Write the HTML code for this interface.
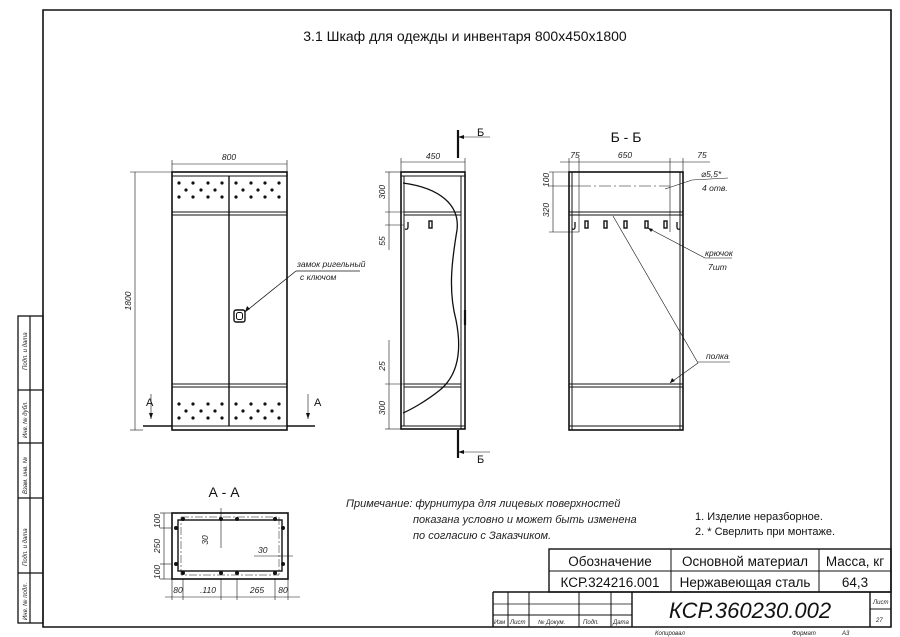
<!DOCTYPE html>
<html><head><meta charset="utf-8"><style>
html,body{margin:0;padding:0;background:#fff;}
svg{display:block;font-family:"Liberation Sans","DejaVu Sans",sans-serif;}
.t{fill:#111;}
.i{font-style:italic;fill:#222;}
</style></head><body>
<svg width="900" height="637" viewBox="0 0 900 637" xmlns="http://www.w3.org/2000/svg">
<rect width="900" height="637" fill="#fff"/>
<g stroke="#111" fill="none">
<!-- frame -->
<path d="M43 10 H891 V627 H43 Z" stroke-width="1.6"/>
<rect x="18" y="316" width="25" height="307" stroke-width="1.3"/>
<line x1="30" y1="316" x2="30" y2="623" stroke-width="1.2"/>
<line x1="18" y1="390" x2="43" y2="390" stroke-width="1.2"/>
<line x1="18" y1="443" x2="43" y2="443" stroke-width="1.2"/>
<line x1="18" y1="498" x2="43" y2="498" stroke-width="1.2"/>
<line x1="18" y1="573" x2="43" y2="573" stroke-width="1.2"/>

<!-- FRONT VIEW -->
<rect x="172" y="172" width="115" height="258" stroke-width="1.6"/>
<line x1="172" y1="176" x2="287" y2="176"/>
<line x1="172" y1="212" x2="287" y2="212"/>
<line x1="172" y1="215" x2="287" y2="215"/>
<line x1="172" y1="384" x2="287" y2="384"/>
<line x1="172" y1="387" x2="287" y2="387"/>
<line x1="172" y1="426" x2="287" y2="426"/>
<line x1="229" y1="176" x2="229" y2="426" stroke-width="1.4"/>
<line x1="143" y1="426" x2="172" y2="426" stroke-width="1.6"/>
<line x1="287" y1="426" x2="315" y2="426" stroke-width="1.6"/>
<rect x="234" y="310" width="11" height="12" rx="2" stroke-width="1.4"/>
<rect x="236.5" y="312.5" width="6" height="7" rx="2"/>
<line x1="245" y1="312" x2="296" y2="271" stroke-width="0.8"/>
<line x1="296" y1="271" x2="360" y2="271" stroke-width="0.8"/>
<!-- dims front -->
<g stroke-width="0.6">
<line x1="172" y1="160" x2="172" y2="172"/><line x1="287" y1="160" x2="287" y2="172"/>
<line x1="172" y1="164" x2="287" y2="164"/>
<line x1="130" y1="172" x2="172" y2="172"/><line x1="130" y1="430" x2="143" y2="430"/>
<line x1="135" y1="172" x2="135" y2="430"/>
<line x1="151" y1="394" x2="151" y2="419"/><line x1="308" y1="394" x2="308" y2="419"/>
</g>
<!-- SIDE VIEW -->
<rect x="401" y="172" width="64" height="257" stroke-width="1.6"/>
<line x1="401" y1="176" x2="465" y2="176"/>
<line x1="404" y1="176" x2="404" y2="426"/>
<line x1="461" y1="176" x2="461" y2="429"/>
<line x1="404" y1="212" x2="461" y2="212"/><line x1="404" y1="215" x2="461" y2="215"/>
<line x1="404" y1="384" x2="461" y2="384"/><line x1="404" y1="387" x2="461" y2="387"/>
<line x1="401" y1="426" x2="465" y2="426"/>
<path d="M403 183 C440 188 460 205 457 230 C452 260 448 290 456 320 C462 350 458 375 440 390 C425 402 410 410 403 413" stroke-width="1.3"/>
<line x1="465" y1="310" x2="465" y2="325" stroke-width="2.2"/>
<path d="M408 222 v5 q0 3 -3 2" stroke-width="1.3"/>
<rect x="429" y="221" width="3" height="7" stroke-width="1.4"/>
<line x1="458" y1="130" x2="458" y2="158" stroke-width="2.2"/>
<line x1="458" y1="430" x2="458" y2="458" stroke-width="2.2"/>
<g stroke-width="0.6">
<line x1="458" y1="137" x2="490" y2="137"/><line x1="458" y1="452" x2="490" y2="452"/>
<line x1="401" y1="158" x2="401" y2="172"/><line x1="465" y1="158" x2="465" y2="172"/>
<line x1="401" y1="162" x2="465" y2="162"/>
<line x1="385" y1="172" x2="401" y2="172"/><line x1="385" y1="212" x2="404" y2="212"/>
<line x1="385" y1="225" x2="404" y2="225"/><line x1="385" y1="384" x2="404" y2="384"/>
<line x1="385" y1="429" x2="401" y2="429"/>
<line x1="389" y1="172" x2="389" y2="250"/><line x1="389" y1="340" x2="389" y2="429"/>
</g>
<!-- B-B -->
<rect x="569" y="172" width="114" height="258" stroke-width="1.6"/>
<line x1="572" y1="172" x2="572" y2="430"/><line x1="680" y1="172" x2="680" y2="430"/>
<line x1="569" y1="212" x2="683" y2="212"/><line x1="569" y1="215" x2="683" y2="215"/>
<line x1="569" y1="384" x2="683" y2="384"/><line x1="569" y1="387" x2="683" y2="387"/>
<line x1="569" y1="426" x2="683" y2="426"/>
<path d="M575 222 v5 q0 3 -3 2" stroke-width="1.3"/>
<path d="M677 222 v5 q0 3 3 2" stroke-width="1.3"/>
<g stroke-width="1.4">
<rect x="585" y="221" width="3" height="7"/><rect x="604" y="221" width="3" height="7"/>
<rect x="624" y="221" width="3" height="7"/><rect x="645" y="221" width="3" height="7"/>
<rect x="664" y="221" width="3" height="7"/>
</g>
<g stroke-width="0.6">
<line x1="560" y1="162" x2="710" y2="162"/>
<line x1="569" y1="158" x2="569" y2="172"/><line x1="579" y1="158" x2="579" y2="232"/>
<line x1="670" y1="158" x2="670" y2="232"/><line x1="683" y1="158" x2="683" y2="172"/>
<line x1="549" y1="172" x2="569" y2="172"/><line x1="549" y1="186" x2="579" y2="186"/>
<line x1="549" y1="232" x2="579" y2="232"/>
<line x1="553" y1="172" x2="553" y2="232"/>
<line x1="579" y1="186" x2="670" y2="186" stroke-dasharray="12 3 2 3"/>
<line x1="665" y1="189" x2="692" y2="180"/><line x1="692" y1="180" x2="728" y2="178"/>
<line x1="648" y1="228" x2="705" y2="258"/><line x1="705" y1="258" x2="732" y2="258"/>
<line x1="613" y1="216" x2="698" y2="363"/><line x1="670" y1="383" x2="698" y2="363"/>
<line x1="698" y1="362" x2="730" y2="362"/>
</g>
<!-- A-A -->
<rect x="172" y="513" width="116" height="66" stroke-width="1.6"/>
<rect x="178" y="520" width="104" height="51" stroke-width="1.4"/>
<g stroke-width="0.5" stroke-dasharray="8 2 2 2">
<rect x="181" y="517" width="98" height="58"/>
</g>
<g stroke-width="0.6">
<line x1="164" y1="513" x2="164" y2="579"/>
<line x1="160" y1="513" x2="172" y2="513"/><line x1="160" y1="528" x2="172" y2="528"/>
<line x1="160" y1="564" x2="172" y2="564"/><line x1="160" y1="579" x2="172" y2="579"/>
<line x1="165" y1="597" x2="300" y2="597"/>
<line x1="221" y1="508" x2="221" y2="548"/>
<line x1="254" y1="556" x2="293" y2="556"/>
<line x1="172" y1="579" x2="172" y2="600"/><line x1="183" y1="579" x2="183" y2="600"/>
<line x1="221" y1="579" x2="221" y2="600"/><line x1="237" y1="579" x2="237" y2="600"/>
<line x1="275" y1="579" x2="275" y2="600"/><line x1="288" y1="579" x2="288" y2="600"/>
</g>
<!-- title block -->
<g stroke-width="1.4">
<rect x="549" y="549" width="342" height="43"/>
<line x1="549" y1="571" x2="891" y2="571" stroke-width="1"/>
<line x1="671" y1="549" x2="671" y2="592" stroke-width="1"/>
<line x1="819" y1="549" x2="819" y2="592" stroke-width="1"/>
<line x1="493" y1="592" x2="891" y2="592"/>
<line x1="493" y1="592" x2="493" y2="627"/>
<line x1="632" y1="592" x2="632" y2="627"/>
<line x1="870" y1="592" x2="870" y2="627"/>
<line x1="870" y1="609" x2="891" y2="609" stroke-width="1"/>
<line x1="493" y1="615" x2="632" y2="615" stroke-width="1"/>
<line x1="493" y1="604" x2="632" y2="604" stroke-width="0.7"/>
<g stroke-width="1"><line x1="508" y1="592" x2="508" y2="627"/><line x1="529" y1="592" x2="529" y2="627"/>
<line x1="579" y1="592" x2="579" y2="627"/><line x1="611" y1="592" x2="611" y2="627"/></g>
</g>
</g>
<!-- dots -->
<g fill="#111">
<circle cx="179" cy="183" r="1.6"/><circle cx="193" cy="183" r="1.6"/><circle cx="208" cy="183" r="1.6"/><circle cx="222" cy="183" r="1.6"/>
<circle cx="186" cy="190" r="1.6"/><circle cx="201" cy="190" r="1.6"/><circle cx="215" cy="190" r="1.6"/>
<circle cx="179" cy="197" r="1.6"/><circle cx="193" cy="197" r="1.6"/><circle cx="208" cy="197" r="1.6"/><circle cx="222" cy="197" r="1.6"/>
<circle cx="236" cy="183" r="1.6"/><circle cx="251" cy="183" r="1.6"/><circle cx="265" cy="183" r="1.6"/><circle cx="279" cy="183" r="1.6"/>
<circle cx="243" cy="190" r="1.6"/><circle cx="258" cy="190" r="1.6"/><circle cx="272" cy="190" r="1.6"/>
<circle cx="236" cy="197" r="1.6"/><circle cx="251" cy="197" r="1.6"/><circle cx="265" cy="197" r="1.6"/><circle cx="279" cy="197" r="1.6"/>
<circle cx="179" cy="404" r="1.6"/><circle cx="193" cy="404" r="1.6"/><circle cx="208" cy="404" r="1.6"/><circle cx="222" cy="404" r="1.6"/>
<circle cx="186" cy="411" r="1.6"/><circle cx="201" cy="411" r="1.6"/><circle cx="215" cy="411" r="1.6"/>
<circle cx="179" cy="418" r="1.6"/><circle cx="193" cy="418" r="1.6"/><circle cx="208" cy="418" r="1.6"/><circle cx="222" cy="418" r="1.6"/>
<circle cx="236" cy="404" r="1.6"/><circle cx="251" cy="404" r="1.6"/><circle cx="265" cy="404" r="1.6"/><circle cx="279" cy="404" r="1.6"/>
<circle cx="243" cy="411" r="1.6"/><circle cx="258" cy="411" r="1.6"/><circle cx="272" cy="411" r="1.6"/>
<circle cx="236" cy="418" r="1.6"/><circle cx="251" cy="418" r="1.6"/><circle cx="265" cy="418" r="1.6"/><circle cx="279" cy="418" r="1.6"/>
<circle cx="183" cy="519" r="2"/><circle cx="221" cy="519" r="2"/><circle cx="237" cy="519" r="2"/><circle cx="275" cy="519" r="2"/>
<circle cx="183" cy="573" r="2"/><circle cx="221" cy="573" r="2"/><circle cx="237" cy="573" r="2"/><circle cx="275" cy="573" r="2"/>
<circle cx="176" cy="528" r="2"/><circle cx="176" cy="564" r="2"/><circle cx="283" cy="528" r="2"/><circle cx="283" cy="564" r="2"/>
<path d="M151 419 l-2 -6 h4z M308 419 l-2 -6 h4z M458 137 l6 -2 v4z M458 452 l6 -2 v4z M245 312 l2 -6 l3 3z M670 383 l2 -5 l3 3z M648 228 l5 1 l-2 3z"/>
</g>
<!-- text -->
<text x="465" y="41" font-size="14" text-anchor="middle" class="t">3.1 Шкаф для одежды и инвентаря 800х450х1800</text>
<g class="i" font-size="8.5">
<text x="229" y="160" text-anchor="middle">800</text>
<text transform="translate(131 301) rotate(-90)" text-anchor="middle">1800</text>
<text x="297" y="267">замок ригельный</text>
<text x="300" y="280">с ключом</text>
<text x="433" y="159" text-anchor="middle">450</text>
<text transform="translate(385 192) rotate(-90)" text-anchor="middle">300</text>
<text transform="translate(385 241) rotate(-90)" text-anchor="middle">55</text>
<text transform="translate(385 366) rotate(-90)" text-anchor="middle">25</text>
<text transform="translate(385 408) rotate(-90)" text-anchor="middle">300</text>
<text x="575" y="158" text-anchor="middle">75</text>
<text x="625" y="158" text-anchor="middle">650</text>
<text x="702" y="158" text-anchor="middle">75</text>
<text transform="translate(549 180) rotate(-90)" text-anchor="middle">100</text>
<text transform="translate(549 210) rotate(-90)" text-anchor="middle">320</text>
<text x="701" y="177">⌀5,5*</text>
<text x="702" y="191">4 отв.</text>
<text x="705" y="256">крючок</text>
<text x="708" y="270">7шт</text>
<text x="706" y="359">полка</text>
<text transform="translate(160 521) rotate(-90)" text-anchor="middle">100</text>
<text transform="translate(160 546) rotate(-90)" text-anchor="middle">250</text>
<text transform="translate(160 572) rotate(-90)" text-anchor="middle">100</text>
<text transform="translate(208 540) rotate(-90)" text-anchor="middle">30</text>
<text x="258" y="553">30</text>
<text x="178" y="593" text-anchor="middle">80</text>
<text x="208" y="593" text-anchor="middle">.110</text>
<text x="257" y="593" text-anchor="middle">265</text>
<text x="283" y="593" text-anchor="middle">80</text>
</g>
<g class="i" font-size="6">
<text transform="translate(27 370) rotate(-90)">Подп. и дата</text>
<text transform="translate(27 438) rotate(-90)">Инв. № дубл.</text>
<text transform="translate(27 494) rotate(-90)">Взам. инв. №</text>
<text transform="translate(27 566) rotate(-90)">Подп. и дата</text>
<text transform="translate(27 620) rotate(-90)">Инв. № подл.</text>
<text x="494" y="624">Изм</text><text x="510" y="624">Лист</text><text x="538" y="624">№ Докум.</text>
<text x="583" y="624">Подп.</text><text x="613" y="624">Дата</text>
<text x="873" y="604">Лист</text><text x="876" y="622">27</text>
<text x="655" y="635">Копировал</text><text x="792" y="635">Формат</text><text x="842" y="635">А3</text>
</g>
<g class="t">
<text x="146" y="406" font-size="11">А</text>
<text x="314" y="406" font-size="11">А</text>
<text x="477" y="136" font-size="11">Б</text>
<text x="477" y="463" font-size="11">Б</text>
<text x="626" y="142" font-size="14" text-anchor="middle">Б - Б</text>
<text x="224" y="497" font-size="14" text-anchor="middle">А - А</text>
<text x="695" y="520" font-size="11">1. Изделие неразборное.</text>
<text x="695" y="535" font-size="11">2. * Сверлить при монтаже.</text>
<text x="610" y="566" font-size="13.5" text-anchor="middle">Обозначение</text>
<text x="745" y="566" font-size="13.5" text-anchor="middle">Основной материал</text>
<text x="855" y="566" font-size="13.5" text-anchor="middle">Масса, кг</text>
<text x="610" y="587" font-size="13.5" text-anchor="middle">КСР.324216.001</text>
<text x="745" y="587" font-size="13.5" text-anchor="middle">Нержавеющая сталь</text>
<text x="855" y="587" font-size="13.5" text-anchor="middle">64,3</text>
<text x="750" y="618" font-size="22" font-style="italic" text-anchor="middle">КСР.360230.002</text>
</g>
<g class="i" font-size="11">
<text x="346" y="507">Примечание: фурнитура для лицевых поверхностей</text>
<text x="413" y="523">показана условно и может быть изменена</text>
<text x="413" y="539">по согласию с Заказчиком.</text>
</g>
</svg>
</body></html>
